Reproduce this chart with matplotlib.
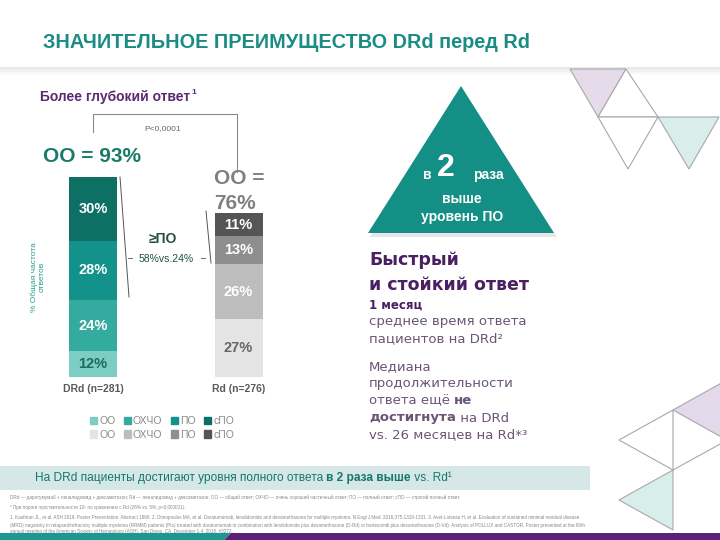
import matplotlib
matplotlib.use("Agg")
import matplotlib.pyplot as plt
from matplotlib.patches import Polygon, Patch, Rectangle

plt.rcParams['font.family'] = ['Liberation Sans', 'DejaVu Sans']

# ---- data ----
groups = ['DRd (n=281)', 'Rd (n=276)']
levels = ['ОО', 'ОХЧО', 'ПО', 'сПО']
drd_vals = [12, 24, 28, 30]
rd_vals = [27, 26, 13, 11]
oo_labels = ['ОО = 93%', 'ОО =\n76%']
cr_text = '58%vs.24%'

teal_cols = ['#7ccdc3', '#34ab9f', '#12928a', '#0e6f64']
grey_cols = ['#e4e4e4', '#bdbdbd', '#8e8e8e', '#555555']
drd_txt = ['#1e6b62', 'white', 'white', 'white']
rd_txt = ['#666666', 'white', 'white', 'white']

TEAL = '#1a8c84'
PURPLE = '#4a2062'
BODY = '#6a5577'

fig = plt.figure(figsize=(7.2, 5.4), dpi=100)
bg = fig.add_axes([0, 0, 1, 1])
bg.set_xlim(0, 720)
bg.set_ylim(540, 0)
bg.axis('off')
renderer = fig.canvas.get_renderer()


def runs(x, y, parts, **kw):
    # consecutive text pieces with mixed weights
    for s, w in parts:
        t = bg.text(x, y, s, fontweight=w, va='center', ha='left', **kw)
        x += t.get_window_extent(renderer).width


# header + shadow
bg.text(43, 43, 'ЗНАЧИТЕЛЬНОЕ ПРЕИМУЩЕСТВО DRd перед Rd', color=TEAL,
        fontsize=14.3, fontweight='bold', va='center')
for i in range(8):
    bg.add_patch(Rectangle((0, 67 + i), 720, 1, color='#999999',
                           alpha=0.22 * (1 - i / 8), lw=0))

# decorative triangles top right
tri_kw = dict(ec='#a8a8a8', lw=0.8, joinstyle='miter')
bg.add_patch(Polygon([(570, 69), (626, 69), (598, 117)], fc='#e5dbeb', **tri_kw))
bg.add_patch(Polygon([(626, 69), (598, 117), (658, 117)], fc='white', **tri_kw))
bg.add_patch(Polygon([(598, 117), (658, 117), (628, 169)], fc='white', **tri_kw))
bg.add_patch(Polygon([(658, 117), (719, 117), (689, 169)], fc='#d9eeeb', **tri_kw))

# decorative triangles bottom right
bg.add_patch(Polygon([(673, 410), (725, 381), (725, 439)], fc='#e3d9ea', **tri_kw))
bg.add_patch(Polygon([(673, 410), (619, 440), (673, 470)], fc='white', **tri_kw))
bg.add_patch(Polygon([(673, 470), (619, 500), (673, 530)], fc='#d8eeeb', **tri_kw))
bg.plot([673, 722], [470, 443], color='#a8a8a8', lw=0.8)

# left panel texts
runs(40, 97, [('Более глубокий ответ', 'bold')], color='#5a2a72', fontsize=10)
bg.text(bg.texts[-1].get_window_extent(renderer).x1 + 1, 92, '1',
        color='#5a2a72', fontsize=6, fontweight='bold', va='center')
bg.plot([93, 93, 237, 237], [132, 114, 114, 172], color='#8a8a8a', lw=0.8)
bg.text(163, 129, 'P<0,0001', color='#666666', fontsize=6, ha='center', va='center')
bg.text(43, 157, oo_labels[0], color='#1a7a6a', fontsize=15, fontweight='bold',
        va='center')
bg.text(214, 191, oo_labels[1], color='#808080', fontsize=15, fontweight='bold',
        va='center', linespacing=1.35)
bg.text(38, 277, '% Общая частота\nответов', color='#2a9d8f', fontsize=6,
        rotation=90, ha='center', va='center', multialignment='center')

# >=CR bracket
bg.plot([120, 129], [177, 297], color='#555555', lw=0.7)
bg.plot([206, 211], [211, 263], color='#555555', lw=0.7)
bg.text(163, 239, '≥ПО', color='#234f48', fontsize=10, fontweight='bold',
        ha='center', va='center')
bg.text(166, 259, cr_text, color='#234f48', fontsize=7.5, ha='center', va='center')
bg.plot([128, 132], [258, 258], color='#555555', lw=0.6)
bg.plot([201, 205], [258, 258], color='#555555', lw=0.6)

# stacked bars
ax = fig.add_axes([40 / 720, (540 - 377) / 540, 250 / 720, 213 / 540])
ax.patch.set_visible(False)
ax.set_xlim((40 - 93) / 145.5, (290 - 93) / 145.5)
ax.set_ylim(0, 100)
ax.axis('off')
w = 48 / 145.5
for xi, vals, cols, tcols in [(0, drd_vals, teal_cols, drd_txt),
                              (1, rd_vals, grey_cols, rd_txt)]:
    bottom = 0
    for v, c, tc in zip(vals, cols, tcols):
        ax.bar(xi, v, width=w, bottom=bottom, color=c, lw=0)
        ax.text(xi, bottom + v / 2, f'{v}%', color=tc, fontsize=10.5,
                fontweight='bold', ha='center', va='center')
        bottom += v
    ax.text(xi, -5.5, groups[xi], color='#5a5a5a', fontsize=7.5,
            fontweight='bold', ha='center', va='center')

handles, labels = [], []
for i in range(4):
    handles += [Patch(color=teal_cols[i]), Patch(color=grey_cols[i])]
    labels += [levels[i], levels[i]]
fig.legend(handles, labels, ncol=4, loc='center', frameon=False,
           bbox_to_anchor=(162 / 720, 1 - 428 / 540), fontsize=7.5,
           labelcolor='#8a8a8a', handlelength=0.7, handleheight=0.7,
           handletextpad=0.2, columnspacing=0.8, labelspacing=0.3,
           borderpad=0)

# big teal triangle
bg.add_patch(Polygon([(462, 89), (370, 237), (557, 237)], fc='#c8c8c8',
                     alpha=0.45, lw=0))
bg.add_patch(Polygon([(461, 86), (368, 233), (554, 233)], fc='#138f86', lw=0))
bg.text(427, 175, 'в', color='white', fontsize=10, fontweight='bold',
        ha='center', va='center')
bg.text(446, 168, '2', color='white', fontsize=23, fontweight='bold',
        ha='center', va='center')
bg.text(488, 175, 'раза', color='white', fontsize=10, fontweight='bold',
        ha='center', va='center')
bg.text(462, 199, 'выше', color='white', fontsize=10, fontweight='bold',
        ha='center', va='center')
bg.text(462, 217, 'уровень ПО', color='white', fontsize=10, fontweight='bold',
        ha='center', va='center')

# right text block
rk = dict(family=['DejaVu Sans'])
bg.text(369, 260, 'Быстрый', color=PURPLE, fontsize=12.5, fontweight='bold',
        va='center', **rk)
bg.text(369, 285, 'и стойкий ответ', color=PURPLE, fontsize=12.5,
        fontweight='bold', va='center', **rk)
bg.text(369, 305, '1 месяц', color=PURPLE, fontsize=8.5, fontweight='bold',
        va='center', **rk)
bg.text(369, 322, 'среднее время ответа', color=BODY, fontsize=9.5,
        va='center', **rk)
bg.text(369, 339, 'пациентов на DRd²', color=BODY, fontsize=9.5,
        va='center', **rk)
bg.text(369, 367, 'Медиана', color=BODY, fontsize=9.5, va='center', **rk)
bg.text(369, 384, 'продолжительности', color=BODY, fontsize=9.5,
        va='center', **rk)
runs(369, 401, [('ответа ещё ', 'normal'), ('не', 'bold')], color=BODY,
     fontsize=9.5, **rk)
runs(369, 418, [('достигнута', 'bold'), (' на DRd', 'normal')], color=BODY,
     fontsize=9.5, **rk)
bg.text(369, 435, 'vs. 26 месяцев на Rd*³', color=BODY, fontsize=9.5,
        va='center', **rk)

# bottom band
bg.add_patch(Rectangle((0, 466), 590, 24, color='#d5e8e7', lw=0))
runs(35, 478, [('На DRd пациенты достигают уровня полного ответа ', 'normal'),
               ('в 2 раза выше', 'bold'), (' vs. Rd¹', 'normal')],
     color='#15776d', fontsize=8.6)

notes = [
    (497, 'DRd — даратумумаб + леналидомид + дексаметазон; Rd — леналидомид + '
          'дексаметазон; ОО — общий ответ; ОХЧО — очень хороший частичный ответ; '
          'ПО — полный ответ; сПО — строгий полный ответ.'),
    (507, '* При пороге чувствительности 10⁵ по сравнению с Rd (26% vs. 5%; '
          'p<0,000001).'),
    (518, '1. Kaufman JL, et al. ASH 2019. Poster Presentation. Abstract 1866. '
          '2. Dimopoulos MA, et al. Daratumumab, lenalidomide and dexamethasone '
          'for multiple myeloma. N Engl J Med. 2016;375:1319-1331. 3. Avet-Loiseau H, '
          'et al. Evaluation of sustained minimal residual disease'),
    (525, '(MRD) negativity in relapsed/refractory multiple myeloma (RRMM) patients '
          '(Pts) treated with daratumumab in combination with lenalidomide plus '
          'dexamethasone (D-Rd) or bortezomib plus dexamethasone (D-Vd): Analysis of '
          'POLLUX and CASTOR. Poster presented at the 60th'),
    (532, 'annual meeting of the American Society of Hematology (ASH). San Diego, CA. '
          'December 1-4, 2018. #3272.'),
]
for y, s in notes:
    bg.text(10, y, s, color='#888888', fontsize=3.3, va='center')

# bottom stripe
bg.add_patch(Polygon([(0, 533), (231, 533), (224, 540), (0, 540)], fc='#1a9a8e', lw=0))
bg.add_patch(Polygon([(231, 533), (720, 533), (720, 540), (224, 540)],
                     fc='#5c1f7a', lw=0))

fig.savefig('out.png', dpi=100)
